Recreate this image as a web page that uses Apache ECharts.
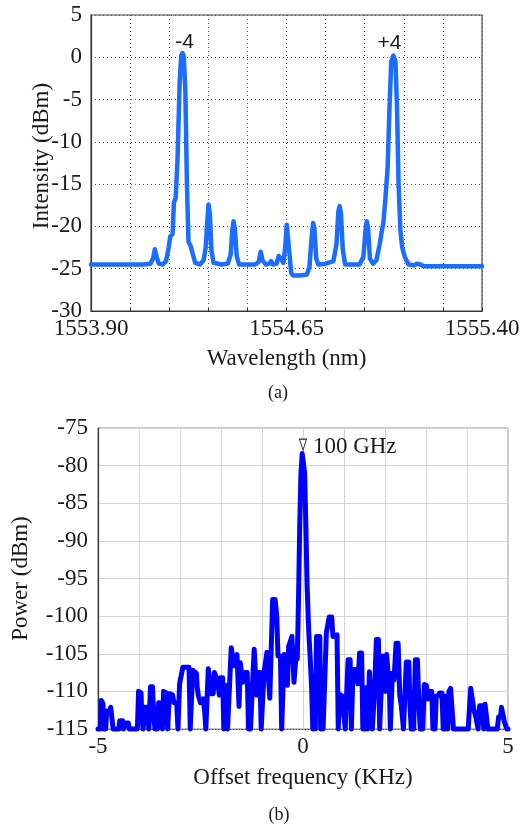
<!DOCTYPE html>
<html>
<head>
<meta charset="utf-8">
<script src="https://cdn.jsdelivr.net/npm/echarts@6/dist/echarts.min.js"></script>
<style>
html,body{margin:0;padding:0;background:#fff;}
#chart{width:526px;height:825px;}
</style>
</head>
<body>
<div id="chart"></div>
<script>
// ---- Panel (a): optical spectrum ----
const wavelengthNm = [
1553.90, 1554.00, 1554.10, 1554.128, 1554.138, 1554.145, 1554.152, 1554.160, 1554.175, 1554.188,
1554.198, 1554.204, 1554.213, 1554.218, 1554.225, 1554.232, 1554.240, 1554.246, 1554.251, 1554.256,
1554.262, 1554.268, 1554.274, 1554.282, 1554.290, 1554.300, 1554.318, 1554.332, 1554.340, 1554.346,
1554.351, 1554.356, 1554.362, 1554.370, 1554.400, 1554.425, 1554.436, 1554.442, 1554.447, 1554.452,
1554.459, 1554.468, 1554.530, 1554.543, 1554.551, 1554.558, 1554.570, 1554.584, 1554.591, 1554.598,
1554.612, 1554.620, 1554.628, 1554.638, 1554.645, 1554.651, 1554.656, 1554.662, 1554.668, 1554.675,
1554.700, 1554.728, 1554.738, 1554.746, 1554.752, 1554.757, 1554.764, 1554.772, 1554.800, 1554.830,
1554.842, 1554.849, 1554.854, 1554.859, 1554.866, 1554.875, 1554.930, 1554.945, 1554.953, 1554.958,
1554.963, 1554.970, 1554.982, 1554.995, 1555.008, 1555.016, 1555.022, 1555.030, 1555.038, 1555.045,
1555.052, 1555.060, 1555.068, 1555.074, 1555.080, 1555.087, 1555.094, 1555.104, 1555.118, 1555.140,
1555.150, 1555.157, 1555.164, 1555.175, 1555.250, 1555.400
];
const intensityDbm = [
-24.5, -24.5, -24.5, -24.4, -23.8, -22.7, -23.6, -24.4, -24.5, -24.1,
-22.5, -21.2, -20.9, -17.2, -16.6, -12.0, -3.0, 0.2, 0.5, 0.1,
-4.0, -15.0, -21.8, -22.3, -23.2, -24.3, -24.5, -24.0, -22.5, -19.5,
-17.4, -18.5, -22.8, -24.3, -24.5, -24.4, -23.3, -20.5, -19.4, -20.3,
-23.5, -24.5, -24.5, -24.2, -23.0, -24.0, -24.5, -24.4, -24.1, -24.5,
-24.4, -23.5, -23.8, -24.3, -22.5, -19.8, -19.9, -23.5, -25.5, -25.8,
-25.8, -25.7, -24.8, -21.5, -19.6, -20.2, -23.8, -24.5, -24.4, -24.1,
-22.0, -18.2, -17.6, -18.5, -22.8, -24.5, -24.5, -23.6, -20.5, -19.4,
-20.2, -23.8, -24.4, -24.0, -22.0, -20.5, -19.5, -16.5, -13.0, -6.0,
-0.5, 0.2, -0.5, -6.0, -15.0, -20.5, -22.5, -23.6, -24.5, -24.6,
-24.4, -24.2, -24.5, -24.7, -24.7, -24.7
];
const xTicksA = ['1553.90', '1554.65', '1555.40'];
const peakLabelsA = ['-4', '+4'];
const peakWlA = [1554.251, 1555.060];
const peakValA = [0.5, 0.2];

// ---- Panel (b): beat note spectrum ----
const offsetKHz = [
-5.00, -4.94, -4.92, -4.88, -4.86, -4.81, -4.79, -4.71, -4.69, -4.65,
-4.63, -4.49, -4.47, -4.40, -4.38, -4.31, -4.26, -4.24, -4.04, -4.01,
-3.95, -3.93, -3.90, -3.86, -3.79, -3.76, -3.72, -3.67, -3.64, -3.61,
-3.55, -3.52, -3.45, -3.43, -3.40, -3.33, -3.30, -3.26, -3.18, -3.15,
-3.08, -3.05, -3.01, -2.97, -2.93, -2.78, -2.75, -2.72, -2.69, -2.60,
-2.58, -2.55, -2.50, -2.46, -2.43, -2.40, -2.37, -2.33, -2.31, -2.27,
-2.24, -2.19, -2.16, -2.12, -2.08, -2.04, -2.01, -1.96, -1.93, -1.90,
-1.86, -1.84, -1.81, -1.79, -1.75, -1.71, -1.68, -1.63, -1.61, -1.58,
-1.56, -1.53, -1.50, -1.47, -1.44, -1.41, -1.36, -1.33, -1.28, -1.24,
-1.19, -1.16, -1.13, -1.10, -1.05, -1.02, -0.98, -0.95, -0.91, -0.88,
-0.84, -0.81, -0.77, -0.74, -0.68, -0.64, -0.61, -0.55, -0.52, -0.49,
-0.46, -0.41, -0.38, -0.35, -0.31, -0.27, -0.25, -0.22, -0.20, -0.17,
-0.14, -0.11, -0.08, -0.05, -0.02, 0.01, 0.04, 0.07, 0.10, 0.14,
0.18, 0.21, 0.24, 0.27, 0.30, 0.33, 0.41, 0.43, 0.46, 0.49,
0.53, 0.57, 0.61, 0.64, 0.70, 0.73, 0.77, 0.83, 0.86, 0.89,
0.95, 0.99, 1.03, 1.07, 1.10, 1.15, 1.18, 1.22, 1.30, 1.34,
1.38, 1.43, 1.46, 1.52, 1.55, 1.58, 1.62, 1.66, 1.69, 1.74,
1.79, 1.84, 1.87, 1.91, 1.94, 1.98, 2.01, 2.04, 2.08, 2.11,
2.13, 2.18, 2.22, 2.27, 2.32, 2.36, 2.40, 2.45, 2.49, 2.52,
2.58, 2.61, 2.64, 2.70, 2.74, 2.79, 2.83, 2.86, 2.92, 2.96,
3.01, 3.05, 3.08, 3.14, 3.17, 3.22, 3.25, 3.30, 3.33, 3.39,
3.42, 3.47, 3.50, 3.53, 3.56, 3.60, 3.64, 3.67, 4.03, 4.05,
4.09, 4.13, 4.17, 4.22, 4.27, 4.31, 4.38, 4.41, 4.44, 4.48,
4.51, 4.74, 4.77, 4.82, 4.84, 4.88, 4.91, 4.95, 4.97, 5.00
];
const powerDbm = [
-115, -115, -111.2, -111.6, -115, -115, -112.6, -112.6, -112.1, -112.1,
-115, -115, -113.9, -113.9, -115, -114.2, -114.2, -115, -115, -110.0,
-110.2, -113.6, -115, -112.1, -112.1, -115, -109.4, -109.4, -113.5, -115,
-115, -111.5, -111.6, -115, -110.0, -110.2, -115, -110.3, -110.5, -111.5,
-111.6, -115, -109.0, -109.0, -106.8, -106.8, -115, -115, -107.2, -107.6,
-109.5, -110.6, -111.5, -111.5, -111.0, -112.5, -115, -115, -107.0, -107.2,
-110.3, -110.3, -107.5, -107.5, -108.8, -110.5, -108.2, -108.2, -115, -109.2,
-109.2, -115, -115, -109.0, -104.2, -104.2, -106.6, -106.6, -105.1, -105.1,
-112.0, -106.2, -106.2, -108.8, -108.8, -107.5, -107.5, -115, -115, -110.0,
-104.4, -104.4, -110.5, -107.5, -107.5, -115, -115, -107.5, -107.5, -104.8,
-104.8, -110.9, -110.9, -97.8, -97.8, -100.0, -105.3, -105.3, -115, -115,
-105.1, -105.3, -109.2, -104.0, -104.0, -102.7, -102.7, -108.8, -108.8, -105.3,
-105.7, -98.0, -88.0, -81.0, -78.4, -78.4, -81.0, -88.0, -96.0, -102.0,
-106.0, -109.5, -115, -110.0, -115, -102.7, -102.7, -115, -109.5, -115,
-115, -102.2, -102.2, -100.1, -100.1, -102.7, -102.5, -102.5, -115, -110.4,
-110.6, -110.6, -115, -115, -105.8, -105.8, -115, -107.1, -107.1, -109.0,
-104.9, -104.9, -115, -115, -109.5, -115, -107.4, -107.4, -115, -110.6,
-103.1, -103.1, -115, -115, -105.3, -105.3, -110.0, -105.1, -105.1, -110.0,
-115, -107.6, -108.5, -103.6, -103.6, -110.5, -112.0, -115, -115, -106.1,
-106.1, -112.0, -115, -115, -105.8, -105.8, -112.0, -115, -115, -109.1,
-109.2, -111.0, -110.0, -110.0, -115, -115, -110.6, -110.6, -110.2, -110.2,
-115, -115, -110.6, -115, -110.0, -109.6, -109.6, -115, -115, -113.1,
-109.6, -109.6, -112.5, -113.5, -115, -111.9, -111.9, -115, -111.7, -111.7,
-115, -115, -113.4, -113.4, -112.1, -112.1, -114.0, -114.0, -115, -115
];
const xTicksB = [-5, 0, 5];
const markerLabelB = '100 GHz';
const markerFreqB = 0;
const markerPowB = -78.4;

const SERIF = '"Liberation Serif", "Times New Roman", serif';
const SANS = '"Liberation Sans", Arial, sans-serif';
const TXT = '#1a1a1a';

const chart = echarts.init(document.getElementById('chart'), null, {renderer: 'canvas'});

const option = {
  animation: false,
  backgroundColor: '#ffffff',
  grid: [
    {left: 91, top: 15, width: 391, height: 296, show: true, borderColor: '#444', borderWidth: 1.2, backgroundColor: 'transparent'},
    {left: 98, top: 428, width: 410, height: 301, show: true, borderColor: '#8a8a8a', borderWidth: 1, backgroundColor: 'transparent'}
  ],
  xAxis: [
    {
      gridIndex: 0, type: 'value', min: 1553.9, max: 1555.4, interval: 0.15,
      axisLine: {show: true, onZero: false, lineStyle: {color: '#333', width: 1.2}},
      axisTick: {show: true, inside: true, length: 3, lineStyle: {color: '#333'}},
      axisLabel: {
        margin: 6, fontFamily: SERIF, fontSize: 23, color: TXT,
        formatter: function (v) {
          const s = v.toFixed(2);
          return xTicksA.indexOf(s) >= 0 ? s : '';
        }
      },
      splitLine: {show: true, lineStyle: {color: '#555', width: 1, type: [1, 3]}},
      name: 'Wavelength (nm)', nameLocation: 'middle', nameGap: 36, nameMoveOverlap: false,
      nameTextStyle: {fontFamily: SERIF, fontSize: 23, color: TXT}
    },
    {
      gridIndex: 1, type: 'value', min: -5, max: 5, interval: 1,
      axisLine: {show: true, onZero: false, lineStyle: {color: '#444', width: 1, type: [1, 2]}},
      axisTick: {show: false},
      axisLabel: {
        margin: 6, fontFamily: SERIF, fontSize: 23, color: TXT,
        formatter: function (v) { return xTicksB.indexOf(v) >= 0 ? String(v) : ''; }
      },
      splitLine: {show: true, lineStyle: {color: '#d4d4d4', width: 1}},
      name: 'Offset frequency (KHz)', nameLocation: 'middle', nameGap: 37, nameMoveOverlap: false,
      nameTextStyle: {fontFamily: SERIF, fontSize: 23, color: TXT}
    }
  ],
  yAxis: [
    {
      gridIndex: 0, type: 'value', min: -30, max: 5, interval: 5,
      axisLine: {show: true, onZero: false, lineStyle: {color: '#333', width: 1.2}},
      axisTick: {show: false},
      axisLabel: {margin: 9, fontFamily: SERIF, fontSize: 23, color: TXT},
      splitLine: {show: true, lineStyle: {color: '#555', width: 1, type: [1, 3]}},
      name: 'Intensity (dBm)', nameLocation: 'middle', nameGap: 38, nameRotate: 90, nameMoveOverlap: false,
      nameTextStyle: {fontFamily: SERIF, fontSize: 23, color: TXT, padding: [0, 0, 0, 14]}
    },
    {
      gridIndex: 1, type: 'value', min: -115, max: -75, interval: 5,
      axisLine: {show: true, onZero: false, lineStyle: {color: '#333', width: 1.2}},
      axisTick: {show: false},
      axisLabel: {margin: 10, fontFamily: SERIF, fontSize: 23, color: TXT},
      splitLine: {show: true, lineStyle: {color: '#d4d4d4', width: 1}},
      name: 'Power (dBm)', nameLocation: 'middle', nameGap: 66, nameRotate: 90, nameMoveOverlap: false,
      nameTextStyle: {fontFamily: SERIF, fontSize: 23, color: TXT}
    }
  ],
  series: [
    {
      type: 'line', xAxisIndex: 0, yAxisIndex: 0,
      data: wavelengthNm.map((w, i) => [w, intensityDbm[i]]),
      showSymbol: false, smooth: false, clip: true,
      lineStyle: {color: '#1a6dff', width: 4.5, join: 'round', cap: 'round'},
      markPoint: {
        symbol: 'circle', symbolSize: 0, silent: true,
        label: {show: true, position: 'inside', fontFamily: SANS, fontSize: 21, color: TXT,
                formatter: function (p) { return p.name; }},
        data: peakLabelsA.map((t, i) => ({
          name: t, coord: [peakWlA[i], peakValA[i]],
          label: {offset: i === 0 ? [2, -11] : [-4, -12]}
        }))
      }
    },
    {
      type: 'line', xAxisIndex: 1, yAxisIndex: 1,
      data: offsetKHz.map((f, i) => [f, powerDbm[i]]),
      showSymbol: false, smooth: false, clip: false,
      lineStyle: {color: '#0000ff', width: 5, join: 'round', cap: 'round'},
      markPoint: {
        silent: true,
        symbol: 'path://M0,0L10,0L5,15Z', symbolSize: [7, 11], symbolOffset: [0, -9],
        itemStyle: {color: '#ffffff', borderColor: '#222', borderWidth: 1},
        label: {show: true, position: 'right', distance: 6, offset: [0, 2],
                fontFamily: SERIF, fontSize: 23, color: TXT,
                formatter: function () { return markerLabelB; }},
        data: [{coord: [markerFreqB, markerPowB]}]
      }
    }
  ],
  graphic: [
    {type: 'text', x: 278, y: 393, style: {text: '(a)', fontFamily: SERIF, fontSize: 18, fill: TXT, textAlign: 'center', textVerticalAlign: 'middle'}},
    {type: 'text', x: 279, y: 815, style: {text: '(b)', fontFamily: SERIF, fontSize: 18, fill: TXT, textAlign: 'center', textVerticalAlign: 'middle'}}
  ]
};
chart.setOption(option);
</script>
</body>
</html>
